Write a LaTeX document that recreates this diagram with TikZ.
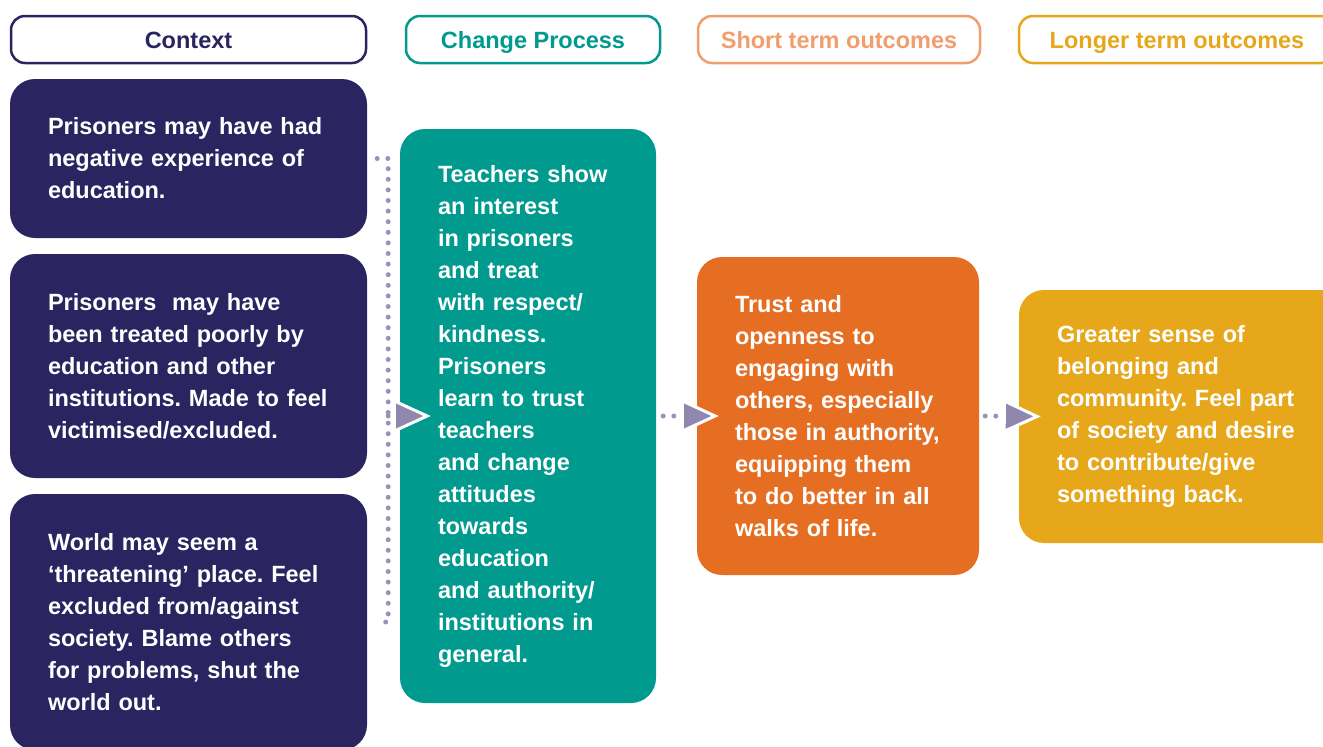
\documentclass[tikz,border=0pt]{standalone}
\usepackage{fontspec}
\setmainfont{Liberation Sans}
\usetikzlibrary{arrows.meta}
\definecolor{ctxc}{HTML}{2A2460}
\definecolor{chgc}{HTML}{009A8E}
\definecolor{shtc}{HTML}{E66E22}
\definecolor{shthd}{HTML}{F09E6E}
\definecolor{lngc}{HTML}{E6A71B}
\definecolor{dotc}{HTML}{9A92B8}
\definecolor{tric}{HTML}{8F87AE}
\frenchspacing

\begin{document}
\begin{tikzpicture}[x=1pt, y=-1pt
  , font=\fontsize{23.5}{32}\selectfont\bfseries
  , hdr/.style={draw, line width=2.5pt, rounded corners=14pt, fill=white, minimum height=47pt, inner sep=0pt, text height=17pt, text depth=0pt}
  , box/.style={rounded corners=25pt, text=white, align=left, inner xsep=38pt, inner ysep=0pt}
  , dots/.style={draw=dotc, line width=5pt, line cap=round, dash pattern=on 0pt off 10.6pt}
  , flow/.style={dots, -{Triangle[length=38pt, width=34pt, color=white, fill=tric, line width=3pt]}}
]
\useasboundingbox (0,0) rectangle (1323,747);

% headers
\node[hdr, draw=ctxc, text=ctxc, minimum width=355pt] (hctx) at (188.5,39.5) {Context};
\node[hdr, draw=chgc, text=chgc, minimum width=254pt] (hchg) at (533,39.5) {Change Process};
\node[hdr, draw=shthd, text=shthd, minimum width=282pt] (hsht) at (839,39.5) {Short term outcomes};
\node[hdr, draw=lngc, text=lngc, minimum width=316pt] (hlng) at (1177,39.5) {Longer term outcomes};

% context
\node[box, fill=ctxc, minimum width=357pt, minimum height=159pt, text width=281pt] (ctx1) at (188.5,158.5)
  {Prisoners may have had\\ negative experience of\\ education.};
\node[box, fill=ctxc, minimum width=357pt, minimum height=224pt, text width=281pt] (ctx2) at (188.5,366)
  {Prisoners\ \ may have\\ been treated poorly by\\ education and other\\ institutions. Made to feel\\ victimised/excluded.};
\node[box, fill=ctxc, minimum width=357pt, minimum height=256pt, text width=281pt] (ctx3) at (188.5,622)
  {World may seem a\\ ‘threatening’ place. Feel\\ excluded from/against\\ society. Blame others\\ for problems, shut the\\ world out.};

% change, outcomes
\node[box, fill=chgc, minimum width=256pt, minimum height=574pt, text width=180pt] (chg) at (528,416)
  {Teachers show\\ an interest\\ in prisoners\\ and treat\\ with respect/\\ kindness.\\ Prisoners\\ learn to trust\\ teachers\\ and change\\ attitudes\\ towards\\ education\\ and authority/\\ institutions in\\ general.};
\node[box, fill=shtc, minimum width=282pt, minimum height=318pt, text width=206pt] (sht) at (838,416)
  {Trust and\\ openness to\\ engaging with\\ others, especially\\ those in authority,\\ equipping them\\ to do better in all\\ walks of life.};
\node[box, fill=lngc, minimum width=330pt, minimum height=253pt, text width=254pt] (lng) at (1184,416.5)
  {Greater sense of\\ belonging and\\ community. Feel part\\ of society and desire\\ to contribute/give\\ something back.\rule[-6pt]{0pt}{0pt}};

% connectors
\draw[dots] ([xshift=10pt]ctx1.east) -- ++(11,0) coordinate (b1) -- (b1 |- ctx3.east) -- ([xshift=10pt]ctx3.east);
\coordinate (bm) at (b1 |- chg.west);
\draw[flow] (bm) -- ([xshift=31pt]chg.west);
\draw[flow] ([xshift=7pt]chg.east) -- ([xshift=22pt]sht.west);
\draw[flow] ([xshift=6pt]sht.east) -- ([xshift=22pt]lng.west);
\end{tikzpicture}
\end{document}
